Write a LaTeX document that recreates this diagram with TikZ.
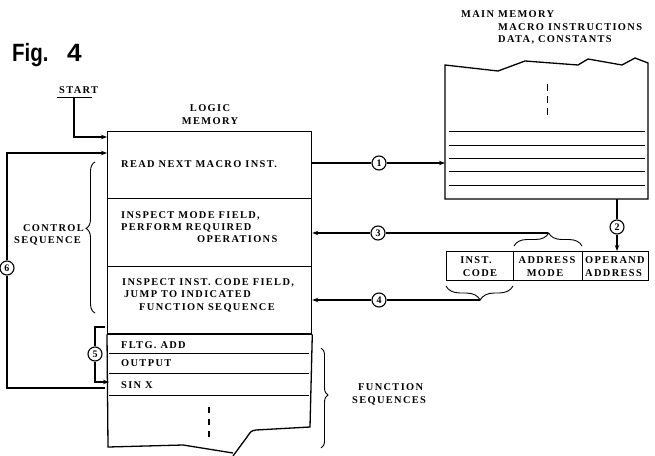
\documentclass[tikz,border=0pt]{standalone}
\usepackage{fontspec}
\setmainfont{Liberation Serif}
\newfontfamily\figfont{Liberation Sans}
\usetikzlibrary{arrows.meta,decorations.pathreplacing,calc}
\begin{document}
\begin{tikzpicture}[x=1pt,y=-1pt,
  txt/.style={font=\fontsize{10.4}{11}\selectfont\bfseries\addfontfeature{LetterSpace=13}, inner sep=0pt},
  rowbox/.style={draw, line width=1.3pt, inner sep=0pt, anchor=north west},
  thin/.style={line width=1pt},
  wire/.style={line width=1.1pt},
  arr/.style={line width=1.1pt, -{Stealth[length=6pt,width=4.5pt]}},
  circ/.style={circle, draw, line width=1.1pt, minimum size=14pt, inner sep=0pt,
     font=\fontsize{10}{10}\selectfont\bfseries},
  brc/.style={decorate, line width=0.9pt},
]
\useasboundingbox (0,0) rectangle (655,455);

% Fig. 4
\node[anchor=base west, inner sep=0pt, font=\figfont\fontsize{25}{25}\selectfont\bfseries] (fig) at (12,61) {\scalebox{0.82}[1]{Fig.}};
\node[anchor=base west, inner sep=0pt, font=\figfont\fontsize{25}{25}\selectfont\bfseries] (fignum) at (67,61) {\scalebox{1.05}[1]{4}};

% START
\node[txt, anchor=base west] (start) at (59,93.3) {START};
\coordinate (su1) at (57,97);
\coordinate (su2) at (92,97);
\draw[thin] (su1) -- (su2);

% LOGIC MEMORY label
\node[txt, anchor=base] (lm1) at (210,111.7) {LOGIC};
\node[txt, anchor=base] (lm2) at (210,124) {MEMORY};

% logic memory rows
\node[rowbox, minimum width=204pt, minimum height=67pt] (r1) at (107,131) {};
\node[rowbox, minimum width=204pt, minimum height=68pt] (r2) at (107,198) {};
\node[rowbox, minimum width=204pt, minimum height=67pt] (r3) at (107,266) {};
\draw[line width=2pt] (r3.south west) -- (r3.south east);

\node[txt, anchor=base west] (t1) at (121,167) {READ NEXT MACRO INST.};
\node[txt, anchor=base west] (t2a) at (121,218) {INSPECT MODE FIELD,};
\node[txt, anchor=base west] (t2b) at (121,230.5) {PERFORM REQUIRED};
\node[txt, anchor=base west] (t2c) at (197,242.5) {OPERATIONS};
\node[txt, anchor=base west] (t3a) at (122,285.5) {INSPECT INST. CODE FIELD,};
\node[txt, anchor=base west] (t3b) at (124,297.5) {JUMP TO INDICATED};
\node[txt, anchor=base west] (t3c) at (139,310.5) {FUNCTION SEQUENCE};

% function sequences part
\node[inner sep=0pt, minimum width=200pt, minimum height=20pt, anchor=north west] (f1) at (109,333) {};
\node[inner sep=0pt, minimum width=200pt, minimum height=20pt, anchor=north west] (f2) at (109,353) {};
\node[inner sep=0pt, minimum width=200pt, minimum height=22pt, anchor=north west] (f3) at (109,373) {};
\draw[line width=1.3pt] (r3.south west) -- (108,447) -- (183,445) -- (233,453);
\draw[line width=1.3pt] (r3.south east) -- (310,427) -- (256,430)
   .. controls (251,431) .. (247,437) -- (233,456);
\draw[thin] (f1.south west) -- (f1.south east);
\draw[thin] (f2.south west) -- (f2.south east);
\draw[thin] (f3.south west) -- (f3.south east);
\draw[line width=1.2pt, dash pattern=on 6pt off 6pt] (209,407) -- (209,442);

\node[txt, anchor=base west] (tf1) at (121,348.3) {FLTG. ADD};
\node[txt, anchor=base west] (tf2) at (121,366.7) {OUTPUT};
\node[txt, anchor=base west] (tf3) at (121,388.3) {SIN X};

% START arrow
\coordinate (sd) at (74,97);
\draw[arr] (sd) |- (r1.west |- 0,137);

% control sequence brace and label
\draw[brc, decoration={brace, amplitude=9pt, aspect=0.56}] (95,313) -- (95,162);
\node[txt, anchor=base east] (cs1) at (84,231.7) {CONTROL};
\node[txt, anchor=base west] (cs2) at (14,243.3) {SEQUENCE};

% function sequences brace and label
\draw[brc, decoration={brace, amplitude=7pt, aspect=0.47}] (321,348) -- (321,448);
\node[txt, anchor=base west] (fs1) at (358,390.5) {FUNCTION};
\node[txt, anchor=base west] (fs2) at (352,403.3) {SEQUENCES};

% loop 6
\node[circ] (c6) at (7,268) {6};
\coordinate (l6s) at (105,388);
\coordinate (l6e) at (107,153);
\draw[wire] (l6s) -| (c6);
\draw[arr] (c6) |- (l6e);

% loop 5
\node[circ] (c5) at (95,354) {5};
\coordinate (l5s) at (105,327);
\draw[wire] (l5s) -| (c5);
\draw[arr] (c5) |- (f3.west |- 0,382);

% main memory
\node[txt, anchor=base west] (mm1) at (461,17.3) {MAIN MEMORY};
\node[txt, anchor=base west] (mm2) at (498,30.5) {MACRO INSTRUCTIONS};
\node[txt, anchor=base west] (mm3) at (498,42.7) {DATA, CONSTANTS};
\node[inner sep=0pt, minimum width=203pt, minimum height=134pt, anchor=north west] (mm) at (445,65) {};
\draw[line width=1.3pt] (445,65) -- (445,199) -- (648,199) -- (648,63)
   -- (635,58) -- (622,65) -- (588,59) -- (578,65) -- (525,61) -- (498,71) -- cycle;
\foreach \yy in {131,145,158,171,185}{
  \draw[thin] (449,\yy) -- (645,\yy);
}
\draw[line width=1pt, dash pattern=on 7pt off 5pt] (547,84) -- (547,116);

% instruction word
\node[rowbox, minimum width=67pt, minimum height=29pt] (ic) at (446,251) {};
\node[rowbox, minimum width=69pt, minimum height=29pt] (am) at (513,251) {};
\node[rowbox, minimum width=66pt, minimum height=29pt] (oa) at (582,251) {};
\node[txt, anchor=base] (ic1) at (476,263.3) {INST.};
\node[txt, anchor=base] (ic2) at (480,276.7) {CODE};
\node[txt, anchor=base] (am1) at (547,263.3) {ADDRESS};
\node[txt, anchor=base] (am2) at (545,276.7) {MODE};
\node[txt, anchor=base west] (oa1) at (585,263.3) {OPERAND};
\node[txt, anchor=base west] (oa2) at (585,276.7) {ADDRESS};

% connector 1
\node[circ] (c1) at (379,163) {1};
\draw[wire] (r1.east |- c1) -- (c1);
\draw[arr] (c1) -- (mm.west |- c1);

% connector 2
\node[circ] (c2) at (617,227) {2};
\draw[wire] (mm.south -| c2) -- (c2);
\draw[arr] (c2) -- (oa.north -| c2);

% connector 3
\draw[brc, decoration={brace, amplitude=13pt, aspect=0.51}] (514,246) -- (582,246);
\coordinate (b3) at (548,233);
\node[circ] (c3) at (378,233) {3};
\draw[wire] (b3) -- (c3);
\draw[arr] (c3) -- (r2.east |- c3);

% connector 4
\draw[brc, decoration={brace, amplitude=14pt, aspect=0.49}] (513,286) -- (446,286);
\coordinate (b4) at (480,300);
\node[circ] (c4) at (379,300) {4};
\draw[wire] (b4) -- (c4);
\draw[arr] (c4) -- (r3.east |- c4);
\end{tikzpicture}
\end{document}
